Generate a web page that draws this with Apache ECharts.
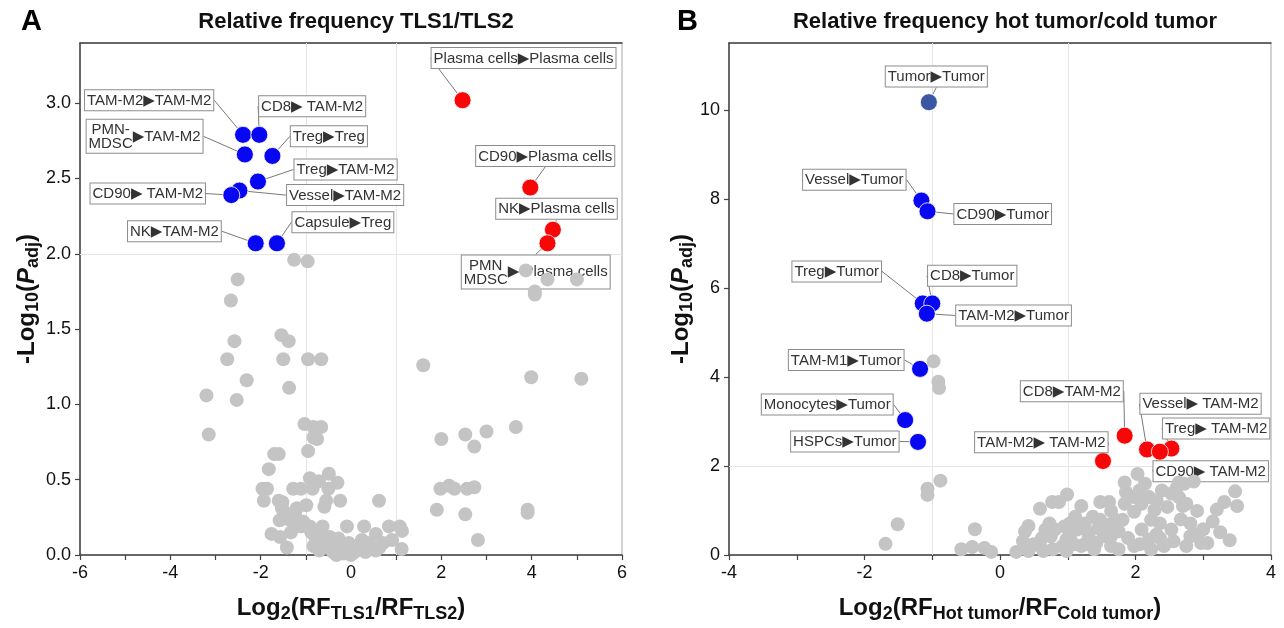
<!DOCTYPE html>
<html><head><meta charset="utf-8">
<script src="https://cdn.jsdelivr.net/npm/echarts@6/dist/echarts.min.js"></script>
<style>html,body{margin:0;padding:0;background:#fff}#c{width:1284px;height:628px}</style>
</head><body><div id="c"></div>
<script>
// ---------- Panel A data: Relative frequency TLS1/TLS2 ----------
const xTicksA = [-6, -4, -2, 0, 2, 4, 6];
const yTicksA = [0.0, 0.5, 1.0, 1.5, 2.0, 2.5, 3.0];
const grayA = [
 [-1.26,1.96],[-0.96,1.95],[-2.51,1.83],[-2.66,1.69],[-1.54,1.46],[-1.38,1.42],[-2.58,1.42],[-2.74,1.30],
 [-1.50,1.30],[-0.95,1.30],[-0.66,1.30],[1.60,1.26],[-2.31,1.16],[-1.37,1.11],[-3.20,1.06],[-2.53,1.03],
 [3.99,1.18],[5.10,1.17],[3.87,1.89],[4.35,1.83],[5.00,1.83],[4.07,1.75],[4.07,1.73],[-3.15,0.80],
 [-1.03,0.87],[-0.83,0.85],[-0.66,0.85],[-0.83,0.78],[-0.75,0.77],[-0.95,0.69],[-1.70,0.67],[-1.60,0.67],
 [-1.82,0.57],[3.65,0.85],[3.00,0.82],[2.53,0.80],[2.00,0.77],[2.73,0.72],[1.98,0.44],[2.17,0.46],
 [2.29,0.44],[2.57,0.44],[2.73,0.45],[1.90,0.30],[2.53,0.27],[3.91,0.30],[3.91,0.28],[2.81,0.10],
 [0.62,0.36],[-1.96,0.44],[-1.86,0.44],[-1.93,0.36],[-1.60,0.36],[-1.52,0.35],[-1.53,0.31],[-1.28,0.44],
 [-1.11,0.44],[-0.85,0.44],[-0.91,0.51],[-0.71,0.49],[-0.49,0.54],[-0.50,0.44],[-0.30,0.48],[-1.20,0.31],
 [-0.99,0.33],[-0.59,0.32],[-0.55,0.36],[-0.24,0.36],[-1.58,0.23],[-1.34,0.23],[-1.22,0.25],[-1.11,0.19],
 [-0.91,0.19],[-0.63,0.19],[-1.76,0.14],[-1.57,0.12],[-1.33,0.15],[-1.42,0.05],[-0.09,0.19],[0.29,0.19],
 [0.84,0.19],[1.08,0.19],[1.13,0.16],[0.55,0.14],[0.91,0.10],[1.12,0.04],[0.71,0.08],[-0.79,0.12],
 [-0.63,0.10],[-0.47,0.12],[-0.28,0.11],[-0.83,0.06],[-0.55,0.05],[-0.40,0.02],[-0.16,0.01],[0.00,0.00],
 [0.16,0.06],[0.32,0.02],[0.47,0.04],[0.63,0.05],[0.08,0.02],[-0.32,0.00],[-0.70,0.03],[-0.20,0.05],
 [0.40,0.08],[-0.05,0.08],[0.24,0.10],[-0.45,0.06],[0.55,0.03],[-0.88,0.15],[-1.05,0.22],[-1.45,0.28]
];
const namesA = ['Plasma cells\u25B6Plasma cells','CD90\u25B6Plasma cells','NK\u25B6Plasma cells','PMN\nMDSC\u25B6 Plasma cells',
 'TAM-M2\u25B6TAM-M2','CD8\u25B6 TAM-M2','PMN-\nMDSC\u25B6TAM-M2','Treg\u25B6Treg','Treg\u25B6TAM-M2',
 'Vessel\u25B6TAM-M2','CD90\u25B6 TAM-M2','NK\u25B6TAM-M2','Capsule\u25B6Treg'];
const xA = [2.47, 3.97, 4.47, 4.35, -2.39, -2.03, -2.35, -1.74, -2.06, -2.47, -2.65, -2.11, -1.64];
const yA = [3.02, 2.44, 2.16, 2.07, 2.79, 2.79, 2.66, 2.65, 2.48, 2.42, 2.39, 2.07, 2.07];
const dirA = ['up','up','up','up','down','down','down','down','down','down','down','down','down'];
// label anchor positions (data units)
const labXA = [3.82, 4.30, 4.55, 4.09, -4.47, -0.86, -4.57, -0.49, -0.12, -0.13, -4.50, -3.91, -0.18];
const labYA = [3.30, 2.65, 2.30, 1.88, 3.02, 2.98, 2.78, 2.78, 2.56, 2.39, 2.40, 2.15, 2.21];

// ---------- Panel B data: hot tumor / cold tumor ----------
const xTicksB = [-4, -2, 0, 2, 4];
const yTicksB = [0, 2, 4, 6, 8, 10];
const grayB = [
 [-0.98,4.35],[-0.91,3.89],[-0.90,3.75],[-0.88,1.67],[-1.07,1.49],[-1.07,1.35],[-1.51,0.69],[-1.69,0.25],
 [-0.37,0.58],[-0.57,0.13],[-0.41,0.18],[-0.23,0.16],[-0.13,0.07],[0.24,0.07],[0.34,0.31],[0.42,0.65],
 [0.37,0.53],[0.42,0.09],[0.59,1.04],[0.77,1.19],[0.87,1.19],[0.99,1.36],[1.20,1.10],[1.48,1.19],
 [1.61,1.19],[1.84,1.63],[2.03,1.82],[2.14,1.60],[1.86,1.41],[2.20,1.30],[2.39,1.45],[2.53,1.38],
 [2.61,1.52],[2.72,1.60],[2.86,1.65],[2.64,1.63],[3.47,1.43],[3.31,1.19],[3.50,1.10],[3.20,1.02],
 [2.91,0.99],[2.70,1.10],[3.14,0.75],[3.00,0.58],[3.25,0.51],[3.39,0.33],[3.06,0.27],[2.81,0.42],
 [2.56,0.31],[2.67,0.80],[2.36,0.71],[2.47,1.08],[2.28,1.01],[2.09,1.15],[1.98,0.97],[1.81,0.79],
 [1.64,0.99],[1.37,0.86],[1.25,0.71],[1.14,0.57],[1.03,0.71],[0.95,0.64],[0.73,0.71],[0.75,0.42],
 [0.62,0.38],[0.50,0.24],[0.59,0.20],[0.78,0.13],[0.92,0.20],[0.98,0.35],[1.20,0.20],[1.31,0.38],
 [1.42,0.27],[1.53,0.42],[1.64,0.20],[1.75,0.53],[1.89,0.38],[1.98,0.20],[2.09,0.57],[2.20,0.35],
 [2.31,0.46],[2.42,0.20],[2.06,0.24],[1.59,0.68],[1.45,0.60],[1.25,0.24],[1.09,0.24],[0.81,0.57],
 [0.67,0.57],[1.11,0.86],[1.48,0.79],[1.70,0.79],[2.23,0.79],[2.53,0.57],[2.81,0.71],[2.92,0.46],
 [1.98,1.30],[2.31,1.23],[2.06,1.45],[2.64,1.30],[2.75,1.15],[1.84,1.15],[2.97,0.27],[2.75,0.20],
 [0.98,0.09],[1.75,0.13],[1.39,0.13],[2.23,0.13],[0.64,0.09],[1.31,0.49],[1.03,0.42],[1.64,0.42],
 [2.36,0.38]
];
const namesB = ['Tumor\u25B6Tumor','Vessel\u25B6Tumor','CD90\u25B6Tumor','Treg\u25B6Tumor','CD8\u25B6Tumor',
 'TAM-M2\u25B6Tumor','TAM-M1\u25B6Tumor','Monocytes\u25B6Tumor','HSPCs\u25B6Tumor','CD8\u25B6TAM-M2',
 'TAM-M2\u25B6 TAM-M2','Vessel\u25B6 TAM-M2','Treg\u25B6 TAM-M2','CD90\u25B6 TAM-M2'];
const xB = [-1.05, -1.16, -1.07, -1.14, -1.00, -1.08, -1.18, -1.40, -1.21, 1.84, 1.52, 2.17, 2.53, 2.36];
const yB = [10.17, 7.96, 7.72, 5.65, 5.65, 5.42, 4.18, 3.03, 2.54, 2.68, 2.11, 2.37, 2.39, 2.32];
const dirB = ['top','down','down','down','down','down','down','down','down','up','up','up','up','up'];
const labXB = [-0.94, -2.15, 0.04, -2.41, -0.41, 0.20, -2.27, -2.55, -2.29, 1.06, 0.61, 2.96, 3.19, 3.11];
const labYB = [10.75, 8.43, 7.66, 6.37, 6.27, 5.38, 4.38, 3.38, 2.55, 3.68, 2.53, 3.40, 2.84, 1.88];

// ---------- styles ----------
const FONT = '"Liberation Sans", Arial, "DejaVu Sans", sans-serif';
const COLORS = { up: '#f70707', down: '#0707f2', top: '#3b57a3' };
const GRAY = '#c4c4c4';

const chart = echarts.init(document.getElementById('c'));

function fmtLabel(p) {
  const n = p.name;
  if (n.indexOf('\n') < 0) return n;
  const parts = n.split('\n');
  const k = parts[1].indexOf('\u25B6');
  const tail = parts[1].slice(k);
  return '{s|' + parts[0] + '}{t|' + tail + '}\n{s|' + parts[1].slice(0, k) + '}{h|' + tail + '}';
}
const LFS = 15;
const labelStyle = {
  show: true, formatter: fmtLabel, fontFamily: FONT, fontSize: LFS, color: '#333',
  backgroundColor: '#fff', borderColor: '#8c8c8c', borderWidth: 1, padding: [3, 2, 2, 2],
  rich: {
    s: { fontFamily: FONT, fontSize: LFS, color: '#333', width: 44, lineHeight: 14 },
    t: { fontFamily: FONT, fontSize: LFS, color: '#333', lineHeight: 14, verticalAlign: 'top', padding: [6, 0, 0, 0] },
    h: { fontFamily: FONT, fontSize: LFS, color: 'rgba(0,0,0,0)', lineHeight: 14 }
  }
};

function labeledData(names, xs, ys, dirs) {
  return names.map((n, i) => ({ name: n, value: [xs[i], ys[i]], itemStyle: { color: COLORS[dirs[i]] } }));
}
function makeLayout(seriesIndex, lx, ly) {
  return function (p) {
    const pt = chart.convertToPixel({ seriesIndex: seriesIndex }, [lx[p.dataIndex], ly[p.dataIndex]]);
    return { x: pt[0], y: pt[1], align: 'center', verticalAlign: 'middle' };
  };
}

const NAME_FS = 24, SUB_FS = 18;
function nameStyle() {
  const rich = {
    sub: { fontFamily: FONT, fontSize: SUB_FS, fontWeight: 'bold', color: '#111', lineHeight: 30, verticalAlign: 'bottom' },
    it: { fontFamily: FONT, fontSize: NAME_FS, fontWeight: 'bold', fontStyle: 'italic', color: '#111', lineHeight: 30 }
  };
  return { fontFamily: FONT, fontSize: NAME_FS, fontWeight: 'bold', color: '#111', lineHeight: 30, rich: rich };
}

function xAxisPair(grid, min, max, ticks, nameRich) {
  return [{
    gridIndex: grid, type: 'value', min: min, max: max, interval: 1, position: 'bottom',
    axisLine: { onZero: false, lineStyle: { color: '#444', width: 1.5 } },
    axisTick: { length: 5, lineStyle: { color: '#444', width: 1.2 } },
    axisLabel: { fontFamily: FONT, fontSize: 18, color: '#111', margin: 9,
      formatter: v => (ticks.indexOf(v) >= 0 ? String(v) : '') },
    splitLine: { show: false },
    name: nameRich, nameLocation: 'middle', nameGap: 38,
    nameTextStyle: nameStyle()
  }, {
    gridIndex: grid, type: 'value', min: min, max: max, position: 'top',
    axisLine: { onZero: false, lineStyle: { color: '#444', width: 1.5 } },
    axisTick: { show: false }, axisLabel: { show: false }, splitLine: { show: false }
  }];
}
function yAxisOf(grid, max, interval, ticks, digits, gap) {
  return {
    gridIndex: grid, type: 'value', min: 0, max: max, interval: interval,
    axisLine: { onZero: false, lineStyle: { color: '#444', width: 1.5 } },
    axisTick: { length: 5, lineStyle: { color: '#444', width: 1.2 } },
    axisLabel: { fontFamily: FONT, fontSize: 18, color: '#111', margin: 9, showMaxLabel: false,
      formatter: v => (ticks.indexOf(v) >= 0 ? v.toFixed(digits) : '') },
    splitLine: { show: false },
    name: '-Log{sub|10}({it|P}{sub|adj})', nameLocation: 'middle', nameGap: gap,
    nameTextStyle: nameStyle()
  };
}
const threshold = {
  silent: true, symbol: 'none', z: 1, animation: false, label: { show: false },
  lineStyle: { color: '#e6e6e6', type: 'solid', width: 1 },
  data: [{ xAxis: -1 }, { xAxis: 1 }, { yAxis: 2 }]
};
const labelLine = { show: true, lineStyle: { color: '#555', width: 0.8 } };

const xa = xAxisPair(0, -6, 6, xTicksA, 'Log{sub|2}(RF{sub|TLS1}/RF{sub|TLS2})');
const xb = xAxisPair(1, -4, 4, xTicksB, 'Log{sub|2}(RF{sub|Hot tumor}/RF{sub|Cold tumor})');

const option = {
  animation: false,
  backgroundColor: '#fff',
  title: [
    { text: 'A', left: 16, top: 2, textStyle: { fontFamily: FONT, fontSize: 29, fontWeight: 'bold', color: '#000' } },
    { text: 'Relative frequency TLS1/TLS2', left: 351, top: 6, textAlign: 'center',
      textStyle: { fontFamily: FONT, fontSize: 22, fontWeight: 'bold', color: '#111' } },
    { text: 'B', left: 672, top: 2, textStyle: { fontFamily: FONT, fontSize: 29, fontWeight: 'bold', color: '#000' } },
    { text: 'Relative frequency hot tumor/cold tumor', left: 1000, top: 6, textAlign: 'center',
      textStyle: { fontFamily: FONT, fontSize: 22, fontWeight: 'bold', color: '#111' } }
  ],
  grid: [
    { left: 80, right: 662, top: 43, bottom: 63, show: true, borderColor: '#a8a8a8', borderWidth: 1 },
    { left: 729, right: 13, top: 43, bottom: 63, show: true, borderColor: '#a8a8a8', borderWidth: 1 }
  ],
  xAxis: [xa[0], xa[1], xb[0], xb[1]],
  yAxis: [yAxisOf(0, 3.4, 0.5, yTicksA, 1, 37), yAxisOf(1, 11.5, 2, yTicksB, 0, 22)],
  series: [
    { type: 'scatter', xAxisIndex: 0, yAxisIndex: 0, z: 3, symbolSize: 14, data: grayA,
      itemStyle: { color: GRAY, opacity: 1 }, markLine: threshold, emphasis: { disabled: true } },
    { type: 'scatter', xAxisIndex: 0, yAxisIndex: 0, z: 2, symbolSize: 17,
      data: labeledData(namesA, xA, yA, dirA),
      itemStyle: { borderColor: '#fff', borderWidth: 0.8, opacity: 1 },
      label: labelStyle, labelLine: labelLine, labelLayout: makeLayout(1, labXA, labYA), emphasis: { disabled: true } },
    { type: 'scatter', xAxisIndex: 2, yAxisIndex: 1, z: 3, symbolSize: 14, data: grayB,
      itemStyle: { color: GRAY, opacity: 1 }, markLine: threshold, emphasis: { disabled: true } },
    { type: 'scatter', xAxisIndex: 2, yAxisIndex: 1, z: 2, symbolSize: 17,
      data: labeledData(namesB, xB, yB, dirB),
      itemStyle: { borderColor: '#fff', borderWidth: 0.8, opacity: 1 },
      label: labelStyle, labelLine: labelLine, labelLayout: makeLayout(3, labXB, labYB), emphasis: { disabled: true } }
  ]
};
chart.setOption(option);
</script></body></html>
